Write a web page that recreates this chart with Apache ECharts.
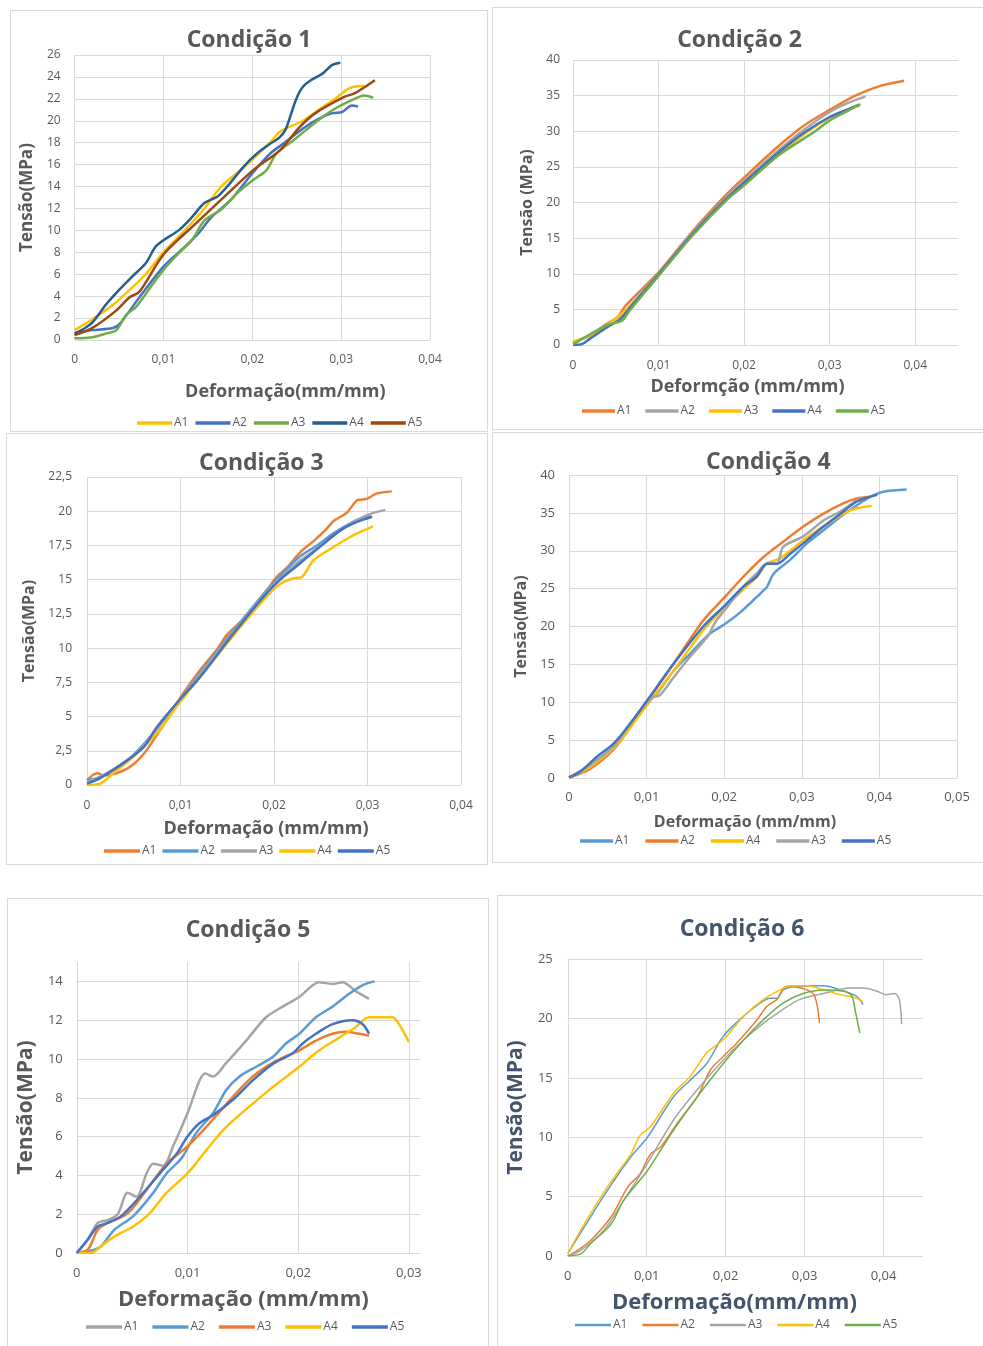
<!DOCTYPE html>
<html>
<head>
<meta charset="utf-8">
<script src="https://cdn.jsdelivr.net/npm/echarts@6/dist/echarts.min.js"></script>
<style>
body{margin:0;width:983px;height:1346px;overflow:hidden;background:#fff;position:relative;}
.box{position:absolute;border:1px solid #d9d9d9;box-sizing:border-box;background:#fff;}
</style>
</head>
<body>
<div id="c1" class="box" style="left:10px;top:10px;width:478px;height:422px"></div>
<div id="c2" class="box" style="left:492px;top:7px;width:495px;height:423px"></div>
<div id="c3" class="box" style="left:6px;top:433px;width:482px;height:432px"></div>
<div id="c4" class="box" style="left:492px;top:432px;width:495px;height:431px"></div>
<div id="c5" class="box" style="left:7px;top:898px;width:482px;height:460px"></div>
<div id="c6" class="box" style="left:497px;top:895px;width:490px;height:460px"></div>
<script>
// ---------- dados: [deformação, tensão] ----------
// Condição 1
var c1A1 = [[0,0.9],[0.002,1.9],[0.0043,3.2],[0.0065,4.8],[0.008,6.0],[0.01,8.0],[0.0124,10.0],[0.0146,12.0],[0.0165,14.0],[0.0194,16.0],[0.022,18.0],[0.0231,19.0],[0.0257,20.0],[0.0275,21.0],[0.0293,22.0],[0.031,23.0],[0.0326,23.2]];
var c1A2 = [[0,0.6],[0.002,0.9],[0.0043,1.1],[0.0051,1.5],[0.0073,3.9],[0.01,6.7],[0.0124,8.5],[0.0139,9.7],[0.0154,11.2],[0.0176,12.8],[0.0201,15.3],[0.022,17.0],[0.0238,18.1],[0.0257,19.3],[0.0275,20.2],[0.029,20.7],[0.0301,20.8],[0.0312,21.4],[0.0319,21.3]];
var c1A3 = [[0,0.15],[0.002,0.25],[0.0036,0.6],[0.0047,0.9],[0.0058,2.3],[0.0069,3.0],[0.008,4.2],[0.01,6.4],[0.0117,7.9],[0.0132,9.1],[0.0146,10.9],[0.0165,11.9],[0.0183,13.4],[0.0201,14.6],[0.0216,15.5],[0.0227,17.0],[0.0246,18.2],[0.0275,20.1],[0.0293,21.1],[0.0315,22.0],[0.0326,22.3],[0.0336,22.1]];
var c1A4 = [[0,0.6],[0.001,1.0],[0.002,1.6],[0.0036,3.3],[0.0047,4.3],[0.0065,5.8],[0.008,7.0],[0.0091,8.5],[0.01,9.1],[0.0117,10.0],[0.0132,11.2],[0.0146,12.5],[0.0161,13.1],[0.0176,14.4],[0.019,15.8],[0.0205,17.0],[0.022,17.9],[0.0231,18.5],[0.0238,19.3],[0.0249,21.9],[0.0257,23.1],[0.0268,23.8],[0.0279,24.3],[0.029,25.1],[0.0299,25.3]];
var c1A5 = [[0,0.45],[0.002,1.1],[0.0047,2.7],[0.0062,3.9],[0.0073,4.4],[0.01,7.8],[0.0132,10.3],[0.0165,12.8],[0.0201,15.5],[0.0231,17.3],[0.0253,19.4],[0.0271,20.7],[0.0304,22.2],[0.0315,22.5],[0.0338,23.7]];
// Condição 2
var c2A1 = [[0,0.3],[0.002,1.4],[0.004,3.0],[0.0052,3.9],[0.0062,5.6],[0.01,10.2],[0.014,16.0],[0.018,21.2],[0.02,23.5],[0.024,27.9],[0.027,30.8],[0.03,33.0],[0.033,35.0],[0.036,36.4],[0.0387,37.1]];
var c2A2 = [[0,0.3],[0.002,1.4],[0.004,2.9],[0.0055,4.0],[0.0065,5.3],[0.01,10.0],[0.014,15.8],[0.018,20.7],[0.02,23.0],[0.024,27.3],[0.027,30.2],[0.03,32.7],[0.032,33.9],[0.0342,34.9]];
var c2A3 = [[0,0.5],[0.002,1.3],[0.004,2.8],[0.0055,4.2],[0.0065,5.2],[0.01,9.9],[0.014,15.5],[0.018,20.5],[0.02,22.7],[0.024,26.8],[0.0275,30.0],[0.03,31.9],[0.032,33.0],[0.0335,33.6]];
var c2A4 = [[0,0],[0.001,0.1],[0.002,0.9],[0.004,2.5],[0.0055,3.6],[0.0065,5.0],[0.01,9.9],[0.014,15.6],[0.018,20.6],[0.02,22.8],[0.024,27.0],[0.027,29.8],[0.03,32.0],[0.032,33.0],[0.0334,33.7]];
var c2A5 = [[0,0.1],[0.002,1.5],[0.004,2.8],[0.0057,3.4],[0.0066,4.8],[0.01,9.7],[0.014,15.4],[0.018,20.4],[0.02,22.4],[0.024,26.6],[0.0283,30.0],[0.03,31.5],[0.032,32.8],[0.0336,33.8]];
// Condição 3
var c3A1 = [[0,0.35],[0.0011,0.85],[0.0018,0.7],[0.0043,1.2],[0.0061,2.3],[0.0078,4.0],[0.0085,4.7],[0.01,6.4],[0.0121,8.4],[0.0139,9.9],[0.015,11.0],[0.0164,11.9],[0.0178,13.0],[0.0192,14.2],[0.0203,15.2],[0.0214,15.9],[0.0228,17.0],[0.0242,17.8],[0.0256,18.7],[0.0264,19.3],[0.0278,19.9],[0.0289,20.8],[0.0299,20.9],[0.031,21.3],[0.0326,21.45]];
var c3A2 = [[0,0.35],[0.0014,0.6],[0.0043,1.8],[0.0061,3.0],[0.0085,5.0],[0.01,6.3],[0.0121,8.2],[0.0157,11.3],[0.0192,14.2],[0.021,15.5],[0.0228,16.7],[0.0246,17.5],[0.0264,18.4],[0.0281,19.1],[0.0292,19.45],[0.0303,19.7]];
var c3A3 = [[0,0.2],[0.0014,0.55],[0.0043,1.8],[0.0061,2.9],[0.0085,5.0],[0.01,6.3],[0.0121,8.1],[0.0157,11.2],[0.0192,14.1],[0.021,15.3],[0.0228,16.4],[0.0249,17.4],[0.0271,18.6],[0.0299,19.7],[0.0319,20.1]];
var c3A4 = [[0,0],[0.0014,0.1],[0.0028,0.85],[0.005,2.1],[0.0075,3.8],[0.01,6.1],[0.0121,7.9],[0.0157,10.95],[0.0192,13.75],[0.0207,14.7],[0.0221,15.1],[0.023,15.2],[0.0242,16.4],[0.0264,17.4],[0.0281,18.1],[0.0296,18.6],[0.0306,18.9]];
var c3A5 = [[0,0.1],[0.0014,0.5],[0.0043,1.8],[0.0061,2.8],[0.0075,4.25],[0.01,6.3],[0.0121,7.9],[0.0157,11.1],[0.0192,14.0],[0.021,15.2],[0.0228,16.2],[0.0249,17.4],[0.0271,18.6],[0.0288,19.2],[0.0305,19.6]];
// Condição 4
var c4A1 = [[0,0.1],[0.0014,0.6],[0.0036,2.3],[0.0057,4.1],[0.0079,7.2],[0.0099,9.8],[0.0113,11.1],[0.0135,14.2],[0.0156,16.4],[0.0182,19.1],[0.0199,20.2],[0.0221,21.9],[0.0242,23.9],[0.0251,24.8],[0.0255,25.2],[0.0264,27.0],[0.0285,28.8],[0.0307,31.0],[0.0328,32.7],[0.035,34.5],[0.0371,36.0],[0.0388,37.1],[0.0405,37.8],[0.0435,38.1]];
var c4A2 = [[0,0.1],[0.0027,1.2],[0.0057,3.7],[0.0079,6.7],[0.0099,9.8],[0.0135,15.1],[0.0173,20.8],[0.0201,23.9],[0.0225,26.6],[0.0251,29.2],[0.0276,31.2],[0.0302,33.2],[0.0328,34.9],[0.0354,36.3],[0.0371,36.9],[0.0388,37.1]];
var c4A4 = [[0,0],[0.0027,1.45],[0.0057,3.9],[0.0079,6.7],[0.0099,9.4],[0.0135,14.2],[0.0173,19.5],[0.0201,22.6],[0.0242,26.6],[0.0255,28.3],[0.0272,29.0],[0.0302,31.4],[0.0328,33.2],[0.0354,34.9],[0.0371,35.6],[0.039,35.9]];
var c4A3 = [[0,0.1],[0.0027,1.7],[0.0057,4.1],[0.0079,7.2],[0.0099,9.8],[0.0109,10.7],[0.0117,10.9],[0.0135,13.3],[0.0156,16.0],[0.0178,18.6],[0.019,20.8],[0.0201,22.2],[0.0225,25.3],[0.0242,27.0],[0.0255,28.3],[0.0268,28.3],[0.0276,30.5],[0.0302,31.9],[0.0328,34.0],[0.035,35.2],[0.0371,36.7]];
var c4A5 = [[0,0.1],[0.0014,0.8],[0.0036,2.8],[0.0057,4.5],[0.0079,7.2],[0.0099,10.0],[0.0135,15.1],[0.0173,20.0],[0.0201,22.8],[0.0225,25.3],[0.0242,26.6],[0.0255,28.3],[0.0268,28.3],[0.0285,29.6],[0.0307,31.4],[0.0328,33.2],[0.035,34.9],[0.0371,36.5],[0.0397,37.4]];
// Condição 5
var c5A1 = [[0,0],[0.001,0.7],[0.0019,1.55],[0.0028,1.7],[0.0037,2.0],[0.0046,3.1],[0.0054,2.9],[0.0063,4.1],[0.0069,4.6],[0.0078,4.5],[0.0087,5.5],[0.01,7.2],[0.0111,8.9],[0.0116,9.25],[0.0123,9.1],[0.0135,9.8],[0.0153,10.95],[0.0171,12.15],[0.0186,12.7],[0.0201,13.2],[0.0219,13.95],[0.0231,13.87],[0.024,13.95],[0.0252,13.5],[0.0264,13.1]];
var c5A2 = [[0,0],[0.0016,0.17],[0.0022,0.35],[0.0034,1.2],[0.0051,1.9],[0.0069,3.1],[0.0081,4.1],[0.009,4.6],[0.0096,5.0],[0.0108,6.2],[0.0123,7.2],[0.0135,8.4],[0.0147,9.1],[0.0162,9.6],[0.0177,10.1],[0.0189,10.8],[0.0201,11.3],[0.0216,12.15],[0.0231,12.7],[0.0246,13.36],[0.0258,13.8],[0.0269,14.0]];
var c5A3 = [[0,0],[0.001,0.17],[0.0019,1.2],[0.0028,1.55],[0.0046,2.05],[0.0063,3.25],[0.0081,4.6],[0.01,5.5],[0.0117,6.5],[0.0141,8.05],[0.0159,9.1],[0.018,9.9],[0.0201,10.45],[0.0216,10.95],[0.0231,11.3],[0.0243,11.4],[0.0255,11.3],[0.0264,11.2]];
var c5A4 = [[0,0],[0.0013,0],[0.0022,0.35],[0.0034,0.85],[0.0051,1.37],[0.0066,2.05],[0.0081,3.1],[0.01,4.1],[0.0117,5.3],[0.0135,6.5],[0.0159,7.7],[0.0177,8.55],[0.0201,9.6],[0.0219,10.45],[0.0237,11.1],[0.0252,11.65],[0.0264,12.15],[0.0273,12.15],[0.0285,12.15],[0.0291,11.8],[0.03,10.87]];
var c5A5 = [[0,0],[0.001,0.7],[0.0019,1.37],[0.0028,1.55],[0.004,1.9],[0.0057,2.9],[0.0075,4.1],[0.009,5.1],[0.01,6.0],[0.0111,6.7],[0.0123,7.1],[0.0141,7.9],[0.0159,8.9],[0.0177,9.75],[0.0195,10.3],[0.0204,10.8],[0.0216,11.3],[0.0231,11.8],[0.0249,12.0],[0.0258,11.8],[0.0264,11.3]];
// Condição 6
var c6A1 = [[0,0.2],[0.0021,2.45],[0.005,5.5],[0.008,8.35],[0.0101,10.0],[0.0134,13.4],[0.0155,14.8],[0.0176,16.2],[0.0197,18.5],[0.0223,20.2],[0.0244,21.3],[0.0256,21.7],[0.0265,21.7],[0.0273,22.4],[0.029,22.7],[0.0324,22.75],[0.0345,22.4],[0.0366,21.85],[0.0374,21.15]];
var c6A2 = [[0,0],[0.0013,0.5],[0.0029,1.3],[0.0055,3.3],[0.0076,5.8],[0.0092,6.95],[0.0105,8.6],[0.0118,9.2],[0.0139,11.2],[0.0164,13.4],[0.0181,15.7],[0.0197,16.8],[0.0214,17.9],[0.024,19.9],[0.0252,21.0],[0.0265,21.6],[0.0277,22.7],[0.0303,22.4],[0.0313,21.85],[0.0319,19.6]];
var c6A3 = [[0,0],[0.0017,0.5],[0.0046,2.2],[0.0071,4.7],[0.0101,7.8],[0.0134,11.45],[0.0164,14.0],[0.0197,16.5],[0.0223,18.2],[0.0248,19.6],[0.0269,20.6],[0.0294,21.6],[0.0324,22.1],[0.0357,22.55],[0.0374,22.55],[0.0391,22.3],[0.0403,22.0],[0.0414,22.1],[0.042,21.6],[0.0423,19.5]];
var c6A4 = [[0,0.2],[0.0021,2.7],[0.005,5.8],[0.008,8.6],[0.0092,10.2],[0.0105,10.9],[0.0134,13.7],[0.0155,15.1],[0.0176,17.1],[0.0197,18.2],[0.0223,20.2],[0.0248,21.6],[0.0269,22.4],[0.0282,22.75],[0.0303,22.75],[0.0324,22.4],[0.0345,22.0],[0.0366,21.7],[0.0374,21.4]];
var c6A5 = [[0,0],[0.0017,0.2],[0.0029,1.05],[0.0055,2.7],[0.0071,4.7],[0.0101,7.2],[0.0134,10.6],[0.0164,13.4],[0.0197,16.2],[0.0223,18.2],[0.0248,19.9],[0.0273,21.3],[0.0298,22.1],[0.0324,22.4],[0.0349,22.3],[0.036,21.85],[0.0364,20.7],[0.037,18.75]];

var FONT = '"Open Sans", "DejaVu Sans", sans-serif';
var TXT = '#595959';
var GRIDC = '#d9d9d9';

function fmt(v) {
    return String(+v.toFixed(4)).replace('.', ',');
}

function buildOption(p) {
    var tc = p.textColor || TXT;
    var th = p.lw > 2 ? 3 : 2; // espessura do traço da legenda
    return {
        animation: false,
        title: {
            text: p.title,
            left: p.titleLeft,
            top: p.titleTop,
            padding: 0,
            textStyle: {fontFamily: FONT, fontSize: 23, fontWeight: 'bold', color: tc}
        },
        grid: p.grid,
        legend: {
            left: p.legend[0],
            top: p.legend[1],
            padding: 0,
            itemWidth: p.legend[2],
            itemHeight: 12,
            itemGap: p.legend[3],
            icon: 'path://M0,' + (6 - th / 2) + ' L30,' + (6 - th / 2) + ' L30,' + (6 + th / 2) + ' L0,' + (6 + th / 2) + ' Z',
            textStyle: {fontFamily: FONT, fontSize: 12, color: TXT, padding: [0, 0, 0, -3]}
        },
        xAxis: {
            type: 'value',
            min: 0,
            max: p.xMax,
            interval: 0.01,
            name: p.xName,
            nameLocation: 'middle',
            nameGap: p.xNameGap,
            nameTextStyle: {fontFamily: FONT, fontSize: p.xNameSize, fontWeight: 'bold', color: tc, padding: p.xNamePad},
            axisLine: {show: false},
            axisTick: {show: false},
            axisLabel: {
                margin: p.xLabelMargin,
                color: TXT,
                fontFamily: FONT,
                fontSize: p.labelSize,
                formatter: function (v) {
                    if (Math.abs(v * 100 - Math.round(v * 100)) > 1e-6) return '';
                    return fmt(v);
                }
            },
            splitLine: {show: true, showMaxLine: p.xMaxLine, lineStyle: {color: GRIDC, width: 1}}
        },
        yAxis: {
            type: 'value',
            min: 0,
            max: p.yMax,
            interval: p.yStep,
            name: p.yName,
            nameLocation: 'middle',
            nameRotate: 90,
            nameGap: p.yNameGap,
            nameTextStyle: {fontFamily: FONT, fontSize: p.yNameSize, fontWeight: 'bold', color: tc},
            axisLine: {show: false},
            axisTick: {show: false},
            axisLabel: {
                margin: p.yLabelMargin,
                color: TXT,
                fontFamily: FONT,
                fontSize: p.labelSize,
                formatter: function (v) {
                    if (v > p.yLabelTop + 1e-9) return '';
                    return fmt(v);
                }
            },
            splitLine: {show: true, showMaxLine: p.yMaxLine, lineStyle: {color: GRIDC, width: 1}}
        },
        series: p.series.map(function (s) {
            return {
                name: s[0],
                type: 'line',
                data: s[1],
                symbol: 'none',
                smooth: 0.3,
                lineStyle: {width: p.lw, color: s[2]},
                itemStyle: {color: s[2]}
            };
        })
    };
}

var panels = [
    {
        id: 'c1', title: 'Condição 1', titleLeft: 'center', titleTop: 18,
        grid: {left: 56, top: 44, width: 363, height: 285},
        legend: [126, 406, 35, 7],
        xMax: 0.04, xMaxLine: true, xName: 'Deformação(mm/mm)', xNameGap: 43, xNameSize: 18, xNamePad: [0, 0, 0, 66], xLabelMargin: 14,
        yMax: 26, yStep: 2, yLabelTop: 26, yMaxLine: true, yName: 'Tensão(MPa)', yNameGap: 32, yNameSize: 17, yLabelMargin: 14,
        labelSize: 12, lw: 2.5,
        series: [['A1', c1A1, '#FFC000'], ['A2', c1A2, '#4472C4'], ['A3', c1A3, '#70AD47'], ['A4', c1A4, '#255E91'], ['A5', c1A5, '#9E480E']]
    },
    {
        id: 'c2', title: 'Condição 2', titleLeft: 'center', titleTop: 21,
        grid: {left: 80, top: 52, width: 385, height: 285},
        legend: [89, 397, 33, 14],
        xMax: 0.045, xMaxLine: false, xName: 'Deformção (mm/mm)', xNameGap: 33, xNameSize: 18, xNamePad: [0, 36, 0, 0], xLabelMargin: 15,
        yMax: 40, yStep: 5, yLabelTop: 40, yMaxLine: true, yName: 'Tensão (MPa)', yNameGap: 37, yNameSize: 16, yLabelMargin: 13,
        labelSize: 12, lw: 2.5,
        series: [['A1', c2A1, '#ED7D31'], ['A2', c2A2, '#A5A5A5'], ['A3', c2A3, '#FFC000'], ['A4', c2A4, '#4472C4'], ['A5', c2A5, '#70AD47']]
    },
    {
        id: 'c3', title: 'Condição 3', titleLeft: 192, titleTop: 18,
        grid: {left: 80, top: 43, width: 374, height: 308},
        legend: [97, 411, 36, 6],
        xMax: 0.04, xMaxLine: true, xName: 'Deformação (mm/mm)', xNameGap: 35, xNameSize: 18, xNamePad: [0, 16, 0, 0], xLabelMargin: 15,
        yMax: 22.5, yStep: 2.5, yLabelTop: 22.5, yMaxLine: true, yName: 'Tensão(MPa)', yNameGap: 42, yNameSize: 16, yLabelMargin: 15,
        labelSize: 12, lw: 2.5,
        series: [['A1', c3A1, '#ED7D31'], ['A2', c3A2, '#5B9BD5'], ['A3', c3A3, '#A5A5A5'], ['A4', c3A4, '#FFC000'], ['A5', c3A5, '#4472C4']]
    },
    {
        id: 'c4', title: 'Condição 4', titleLeft: 213, titleTop: 18,
        grid: {left: 76, top: 42, width: 388, height: 303},
        legend: [87, 402, 33, 16],
        xMax: 0.05, xMaxLine: true, xName: 'Deformação (mm/mm)', xNameGap: 36, xNameSize: 16, xNamePad: [0, 36, 0, 0], xLabelMargin: 13,
        yMax: 40, yStep: 5, yLabelTop: 40, yMaxLine: true, yName: 'Tensão(MPa)', yNameGap: 37, yNameSize: 16, yLabelMargin: 14,
        labelSize: 13, lw: 2.5,
        series: [['A1', c4A1, '#5B9BD5'], ['A2', c4A2, '#ED7D31'], ['A4', c4A4, '#FFC000'], ['A3', c4A3, '#A5A5A5'], ['A5', c4A5, '#4472C4']]
    },
    {
        id: 'c5', title: 'Condição 5', titleLeft: 'center', titleTop: 20,
        grid: {left: 68, top: 63, width: 344, height: 291},
        legend: [78, 422, 36, 14],
        xMax: 0.031, xMaxLine: false, xName: 'Deformação (mm/mm)', xNameGap: 36, xNameSize: 22, xNamePad: [0, 10, 0, 0], xLabelMargin: 14,
        yMax: 15, yStep: 2, yLabelTop: 14, yMaxLine: false, yName: 'Tensão(MPa)', yNameGap: 37, yNameSize: 21, yLabelMargin: 14,
        labelSize: 13, lw: 2.5,
        series: [['A1', c5A1, '#A5A5A5'], ['A2', c5A2, '#5B9BD5'], ['A3', c5A3, '#ED7D31'], ['A4', c5A4, '#FFC000'], ['A5', c5A5, '#4472C4']]
    },
    {
        id: 'c6', title: 'Condição 6', titleLeft: 'center', titleTop: 22, textColor: '#44546A',
        grid: {left: 69, top: 63, width: 356, height: 297},
        legend: [77, 423, 36, 15],
        xMax: 0.045, xMaxLine: false, xName: 'Deformação(mm/mm)', xNameGap: 36, xNameSize: 22, xNamePad: [0, 22, 0, 0], xLabelMargin: 14,
        yMax: 25, yStep: 5, yLabelTop: 25, yMaxLine: true, yName: 'Tensão(MPa)', yNameGap: 38, yNameSize: 21, yLabelMargin: 15,
        labelSize: 13, lw: 1.5,
        series: [['A1', c6A1, '#5B9BD5'], ['A2', c6A2, '#ED7D31'], ['A3', c6A3, '#A5A5A5'], ['A4', c6A4, '#FFC000'], ['A5', c6A5, '#70AD47']]
    }
];

for (var i = 0; i < panels.length; i++) {
    var chart = echarts.init(document.getElementById(panels[i].id));
    chart.setOption(buildOption(panels[i]));
}
</script>
</body>
</html>
